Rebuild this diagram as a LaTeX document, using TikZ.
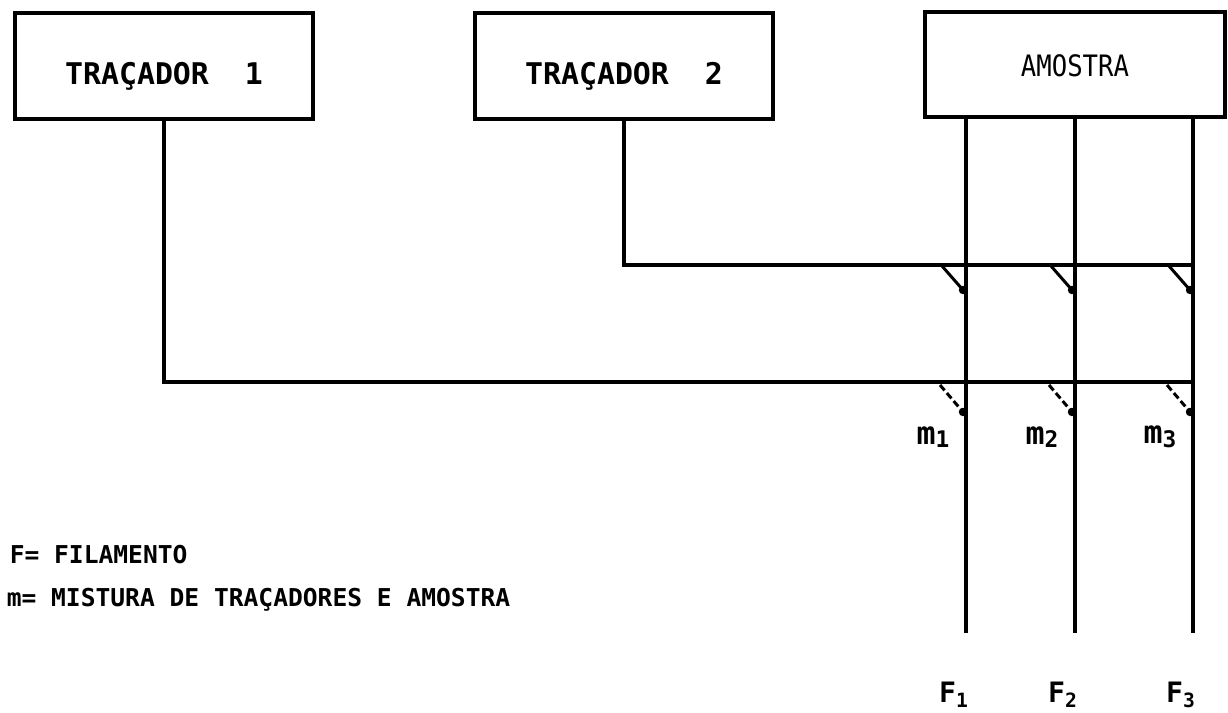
\documentclass[tikz,border=0pt]{standalone}
\usepackage{fontspec}
\setmonofont{DejaVu Sans Mono}
\begin{document}
\begin{tikzpicture}[x=0.02cm, y=-0.02cm, line width=2pt,
  caixa/.style={draw, rectangle, minimum width=5.96cm, minimum height=2.12cm, inner sep=0pt,
    text height=21pt, text depth=0pt,
    font=\ttfamily\bfseries\fontsize{17pt}{19pt}\selectfont},
  txt/.style={font=\ttfamily\bfseries\fontsize{14pt}{16pt}\selectfont, inner sep=0pt},
  rotulo/.style={font=\ttfamily\bfseries\fontsize{18pt}{20pt}\selectfont, inner sep=0pt},
  mistura/.style={line width=1.7pt},
  ponto/.style={radius=2.4pt}]
\useasboundingbox (0,0) rectangle (1228,713);
% caixas dos tracadores e da amostra
\node[caixa] (tr1) at (164,66) {TRAÇADOR~~1};
\node[caixa] (tr2) at (624,66) {TRAÇADOR~~2};
\node[caixa, minimum width=6cm, minimum height=2.1cm,
  label={[anchor=north, yshift=-0.74cm, font=\ttfamily\fontsize{14.6pt}{16pt}\selectfont]north:{\scalebox{1}[1.15]{AMOSTRA}}}] (amostra) at (1075,64.5) {};
% filamentos
\foreach \i/\x in {1/966, 2/1075, 3/1193} {
  \coordinate (f\i) at (\x,633);
  \draw (amostra.south -| f\i) -- (f\i);
  \node[rotulo, font=\ttfamily\bfseries\fontsize{16pt}{18pt}\selectfont] (F\i) at (\x-12,695) {F\textsubscript{\i}};
}
% linhas dos tracadores
\coordinate (j2) at (1193,265);
\coordinate (j1) at (1193,382);
\draw (tr2.south) |- (j2);
\draw (tr1.south) |- (j1);
% pontos de mistura
\foreach \i/\x in {1/966, 2/1075, 3/1193} {
  \draw[mistura] (\x-24,266) -- (\x-3,290);
  \fill (\x-3,290) circle[ponto];
  \draw[mistura, dash pattern=on 4pt off 2pt] (\x-26,385) -- (\x-3,412);
  \fill (\x-3,412) circle[ponto];
  \node[rotulo] (m\i) at (\x-33,437) {m\raisebox{-2pt}{\fontsize{13pt}{14pt}\selectfont\i}};
}
% legenda
\node[txt, anchor=base west] (legF) at (8,563) {F= FILAMENTO};
\node[txt, anchor=base west] (legm) at (5,606) {m= MISTURA DE TRAÇADORES E AMOSTRA};
\end{tikzpicture}
\end{document}
